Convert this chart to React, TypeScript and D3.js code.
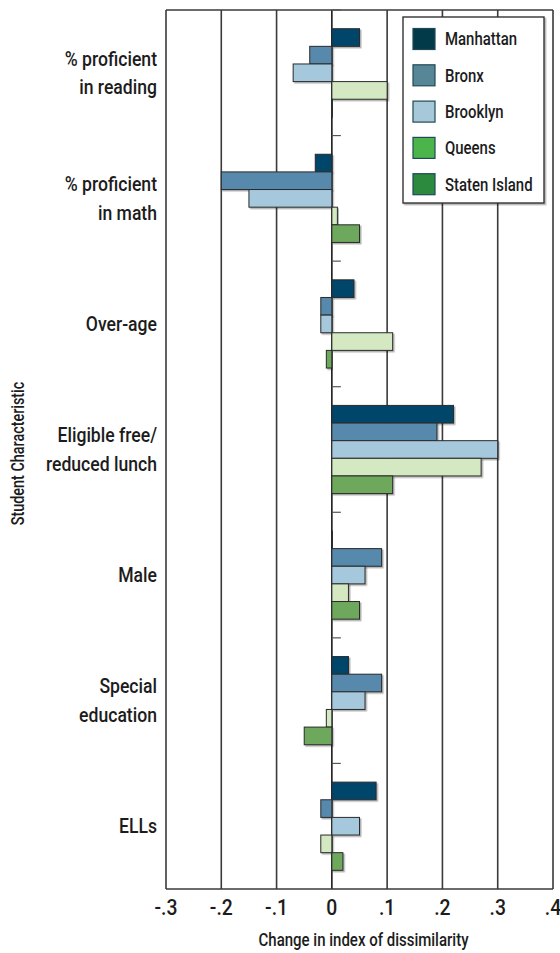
import React from "react";
import * as d3 from "d3";

const categories: string[][] = [
  ["% proficient", "in reading"],
  ["% proficient", "in math"],
  ["Over-age"],
  ["Eligible free/", "reduced lunch"],
  ["Male"],
  ["Special", "education"],
  ["ELLs"],
];

const boroughs = ["Manhattan", "Bronx", "Brooklyn", "Queens", "Staten Island"];

const manhattan = [0.05, -0.03, 0.04, 0.22, 0.001, 0.03, 0.08];
const bronx = [-0.04, -0.2, -0.02, 0.19, 0.09, 0.09, -0.02];
const brooklyn = [-0.07, -0.15, -0.02, 0.3, 0.06, 0.06, 0.05];
const queens = [0.1, 0.01, 0.11, 0.27, 0.03, -0.01, -0.02];
const statenIsland = [0.001, 0.05, -0.01, 0.11, 0.05, -0.05, 0.02];

const xTicks = [-0.3, -0.2, -0.1, 0, 0.1, 0.2, 0.3, 0.4];
const xTickLabels = ["-.3", "-.2", "-.1", "0", ".1", ".2", ".3", ".4"];

const barColors = ["#02456a", "#5689ab", "#a5c8dc", "#d4e8c2", "#6ea85c"];
const legendColors = ["#033a4a", "#578796", "#a6c8d8", "#4bb54b", "#2b8a3e"];

const FONT = "Roboto, 'Liberation Sans', sans-serif";

// text squeezed horizontally around its anchor point (no condensed face installed)
const CText: React.FC<{
  x: number;
  y: number;
  size: number;
  squeeze?: number;
  anchor?: "start" | "middle" | "end";
  rotate?: number;
  dy?: string;
  children: React.ReactNode;
}> = ({ x, y, size, squeeze = 0.88, anchor = "start", rotate = 0, dy = "0.35em", children }) => (
  <g transform={`translate(${x},${y}) rotate(${rotate}) scale(${squeeze},1)`}>
    <text textAnchor={anchor} fontSize={size} dy={dy} fontWeight={500} fill="#1c1c1c">
      {children}
    </text>
  </g>
);

const App: React.FC = () => {
  const width = 560;
  const height = 953;
  const margin = { top: 10, right: 7, bottom: 64, left: 166 };
  const innerWidth = width - margin.left - margin.right;
  const innerHeight = height - margin.top - margin.bottom;

  const series = [manhattan, bronx, brooklyn, queens, statenIsland];

  const x = d3.scaleLinear().domain([-0.3, 0.4]).range([0, innerWidth]);

  const y = d3
    .scaleBand<number>()
    .domain(d3.range(categories.length))
    .range([0, innerHeight])
    .padding(0);

  const inner = d3
    .scaleBand<number>()
    .domain(d3.range(boroughs.length))
    .range([0, y.bandwidth()])
    .paddingOuter(1.06)
    .paddingInner(0);

  const x0 = x(0);

  return (
    <svg
      width={width}
      height={height}
      style={{ position: "absolute", left: 0, top: 0, background: "white" }}
      fontFamily={FONT}
    >
      <defs>
        <filter id="shadow" x="-10%" y="-10%" width="130%" height="150%">
          <feDropShadow dx="1.5" dy="1.5" stdDeviation="0.6" floodColor="#000" floodOpacity="0.3" />
        </filter>
      </defs>
      <g transform={`translate(${margin.left}, ${margin.top})`}>
        {/* vertical gridlines */}
        {xTicks.map((t, i) => (
          <line
            key={`g-${i}`}
            x1={x(t)}
            x2={x(t)}
            y1={0}
            y2={innerHeight}
            stroke={t === 0 ? "#1a1a1a" : "#3a3a3a"}
            strokeWidth={1.6}
          />
        ))}
        <line x1={0} x2={innerWidth} y1={0} y2={0} stroke="#3a3a3a" strokeWidth={1.6} />
        <line x1={0} x2={innerWidth} y1={innerHeight} y2={innerHeight} stroke="#3a3a3a" strokeWidth={1.6} />

        {/* category separators on zero line */}
        {categories.map((_, i) => (
          <line
            key={`sep-${i}`}
            x1={x0}
            x2={x0 + 9}
            y1={y(i)!}
            y2={y(i)!}
            stroke="#555"
            strokeWidth={1.2}
          />
        ))}

        {/* bars */}
        {categories.map((_, ci) =>
          series.map((vals, si) => {
            const v = vals[ci];
            const by = y(ci)! + inner(si)!;
            return (
              <rect
                key={`b-${ci}-${si}`}
                x={Math.min(x(v), x0)}
                y={by}
                width={Math.abs(x(v) - x0)}
                height={inner.bandwidth()}
                fill={barColors[si]}
                stroke="#2a2a2a"
                strokeWidth={1}
                filter="url(#shadow)"
              />
            );
          })
        )}

        {/* category labels */}
        {categories.map((lines, ci) => {
          const cy = y(ci)! + y.bandwidth() / 2;
          const lh = 28.5;
          const start = cy - ((lines.length - 1) * lh) / 2;
          return (
            <g key={`c-${ci}`}>
              {lines.map((l, li) => (
                <CText key={li} x={-9} y={start + li * lh} size={20} anchor="end">
                  {l}
                </CText>
              ))}
            </g>
          );
        })}

        {/* x tick labels */}
        {xTicks.map((t, i) => (
          <CText key={`t-${i}`} x={x(t)} y={innerHeight + 18} size={22} anchor="middle">
            {xTickLabels[i]}
          </CText>
        ))}

        <CText
          x={innerWidth / 2 + 4}
          y={innerHeight + 57}
          size={19}
          squeeze={0.79}
          anchor="middle"
          dy="0"
        >
          Change in index of dissimilarity
        </CText>

        {/* legend */}
        <g transform={`translate(${403 - margin.left}, ${17 - margin.top})`}>
          <rect
            width={141}
            height={186}
            fill="white"
            stroke="#333"
            strokeWidth={1.4}
            filter="url(#shadow)"
          />
          {boroughs.map((b, i) => (
            <g key={b} transform={`translate(10, ${22 + i * 36.3})`}>
              <rect x={0} y={-10.5} width={22} height={21} fill={legendColors[i]} stroke="#1f4a55" strokeWidth={1.2} />
              <CText x={32} y={0} size={18} squeeze={0.83}>
                {b}
              </CText>
            </g>
          ))}
        </g>
      </g>

      <CText
        x={24}
        y={margin.top + innerHeight / 2 + 4}
        size={18}
        squeeze={0.8}
        anchor="middle"
        rotate={-90}
        dy="0"
      >
        Student Characteristic
      </CText>
    </svg>
  );
};

export default App;
